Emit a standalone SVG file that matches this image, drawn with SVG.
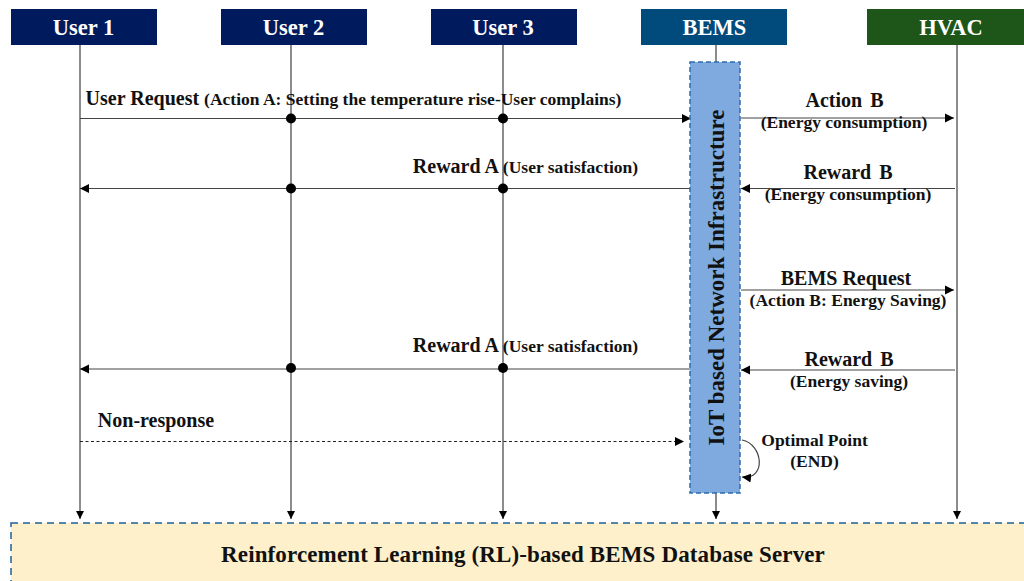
<svg xmlns="http://www.w3.org/2000/svg" width="1024" height="581" viewBox="0 0 1024 581">
<style>
text{font-family:"Liberation Serif","Times New Roman",serif;font-weight:bold;fill:#111;text-anchor:middle}
.h{font-size:22.5px;fill:#fff}
.m{font-size:20px}
.s{font-size:17.5px}
.life{stroke:#666;stroke-width:1.5;fill:none}
.msg{stroke:#444;stroke-width:1.2;fill:none}
.dot{fill:#000}
</style>
<defs>
<marker id="a" markerUnits="userSpaceOnUse" markerWidth="10" markerHeight="10" refX="9" refY="5" orient="auto"><path d="M0 0.5L9 5L0 9.5Z" fill="#000"/></marker>
<marker id="d" markerUnits="userSpaceOnUse" markerWidth="10" markerHeight="10" refX="8" refY="5" orient="auto"><path d="M0 1L8 5L0 9Z" fill="#000"/></marker>
</defs>
<g id="lifelines">
<path class="life" d="M80 44V519" marker-end="url(#d)"/>
<path class="life" d="M291 44V519" marker-end="url(#d)"/>
<path class="life" d="M503 44V519" marker-end="url(#d)"/>
<path class="life" d="M716 44V62M716 493V519" marker-end="url(#d)"/>
<path class="life" d="M957 44V519" marker-end="url(#d)"/>
</g>
<g id="user1"><rect x="11" y="9" width="146" height="36" fill="#001a5e"/><text class="h" x="83.500" y="35">User 1</text></g>
<g id="user2"><rect x="221" y="9" width="146" height="36" fill="#001a5e"/><text class="h" x="293.500" y="35">User 2</text></g>
<g id="user3"><rect x="431" y="9" width="146" height="36" fill="#001a5e"/><text class="h" x="503" y="35">User 3</text></g>
<g id="bems"><rect x="641" y="9" width="146" height="36" fill="#004a7c"/><text class="h" x="714.500" y="35">BEMS</text></g>
<g id="hvac"><rect x="867" y="9" width="157" height="36" fill="#1e5518"/><text class="h" x="951" y="35">HVAC</text></g>
<g id="connectors">
<path class="msg" d="M80 118.500H691" marker-end="url(#a)"/>
<path class="msg" d="M690 188.500H80" marker-end="url(#a)"/>
<path class="msg" d="M690 369H80" marker-end="url(#a)"/>
<path class="msg" d="M741 118H954" marker-end="url(#a)"/>
<path class="msg" d="M955 188.500H741" marker-end="url(#a)"/>
<path class="msg" d="M741 290H954" marker-end="url(#a)"/>
<path class="msg" d="M955 370H741" marker-end="url(#a)"/>
<path stroke="#222" stroke-width="1" fill="none" stroke-dasharray="3 2.500" d="M80 441.500H684" marker-end="url(#a)"/>
<path class="msg" d="M742 440C763 444 767 480 742 477" marker-end="url(#a)"/>
<circle class="dot" cx="291" cy="118.500" r="5"/><circle class="dot" cx="503" cy="118.500" r="5"/>
<circle class="dot" cx="291" cy="188.500" r="5"/><circle class="dot" cx="503" cy="188.500" r="5"/>
<circle class="dot" cx="291" cy="368" r="5"/><circle class="dot" cx="503" cy="368" r="5"/>
</g>
<g id="iot"><rect x="690" y="62" width="50" height="431" fill="#7eaadf" stroke="#2e6cad" stroke-width="1.500" stroke-dasharray="5 3"/><text transform="translate(724 277.500) rotate(-90)" font-size="23">IoT based Network Infrastructure</text></g>
<g id="database"><rect x="11" y="523" width="1030" height="70" fill="#fdf0cb" stroke="#1f5f99" stroke-width="1.500" stroke-dasharray="7 5"/><text x="523" y="562" font-size="23" letter-spacing=".13">Reinforcement Learning (RL)-based BEMS Database Server</text></g>
<g id="labels">
<text x="353.500" y="105" class="s"><tspan font-size="20">User Request </tspan>(Action A: Setting the temperature rise-User complains)</text>
<text x="525.500" y="173" class="s"><tspan font-size="20">Reward A </tspan>(User satisfaction)</text>
<text x="525.500" y="352" class="s"><tspan font-size="20">Reward A </tspan>(User satisfaction)</text>
<text x="844.500" y="107" class="m" word-spacing="3">Action B</text>
<text x="844" y="128" class="s">(Energy consumption)</text>
<text x="848" y="179" class="m" word-spacing="3">Reward B</text>
<text x="848" y="200" class="s">(Energy consumption)</text>
<text x="846" y="285" class="m">BEMS Request</text>
<text x="848" y="306" class="s">(Action B: Energy Saving)</text>
<text x="849" y="366" class="m" word-spacing="3">Reward B</text>
<text x="849" y="387" class="s">(Energy saving)</text>
<text x="156" y="427" class="m">Non-response</text>
<text x="814.500" y="446" class="s">Optimal Point</text>
<text x="814.500" y="467" class="s">(END)</text>
</g>
</svg>
